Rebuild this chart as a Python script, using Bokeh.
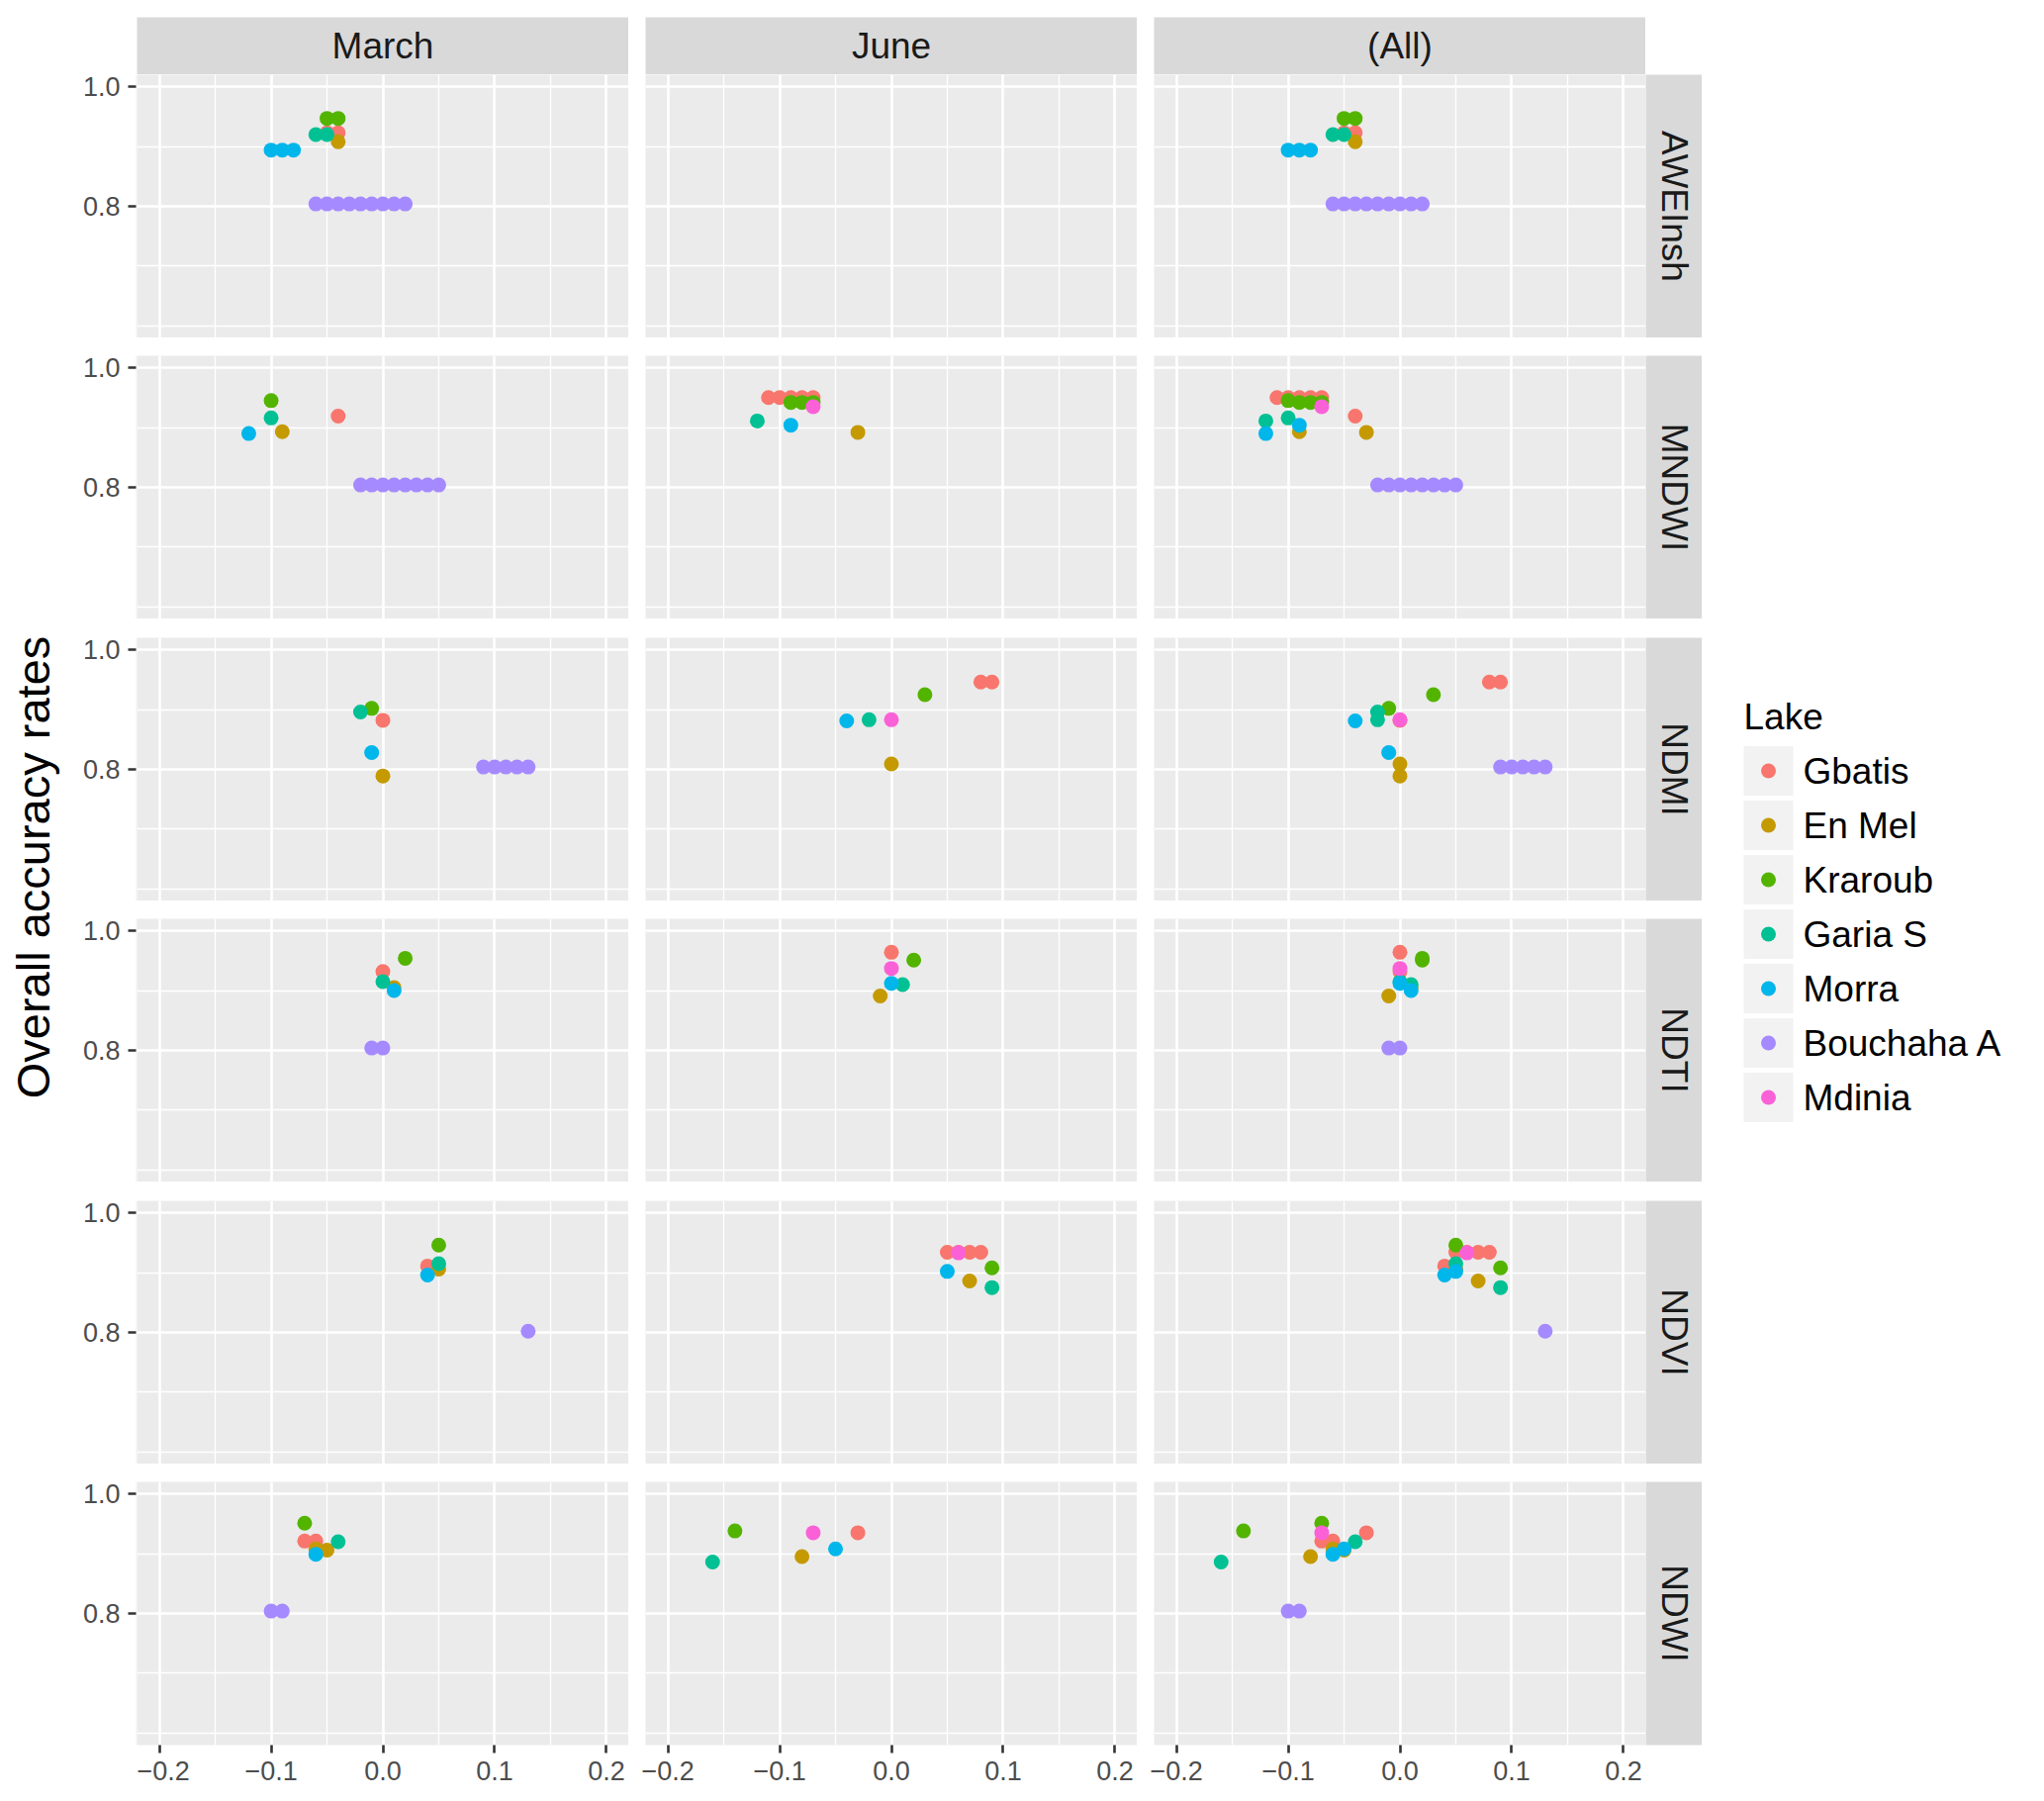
import math
from bokeh.plotting import figure
from bokeh.models import (Range1d, FactorRange, FixedTicker, ColumnDataSource, Label)
from bokeh.layouts import row, column
from bokeh.core.properties import value
from bokeh.embed import file_html
from bokeh.resources import INLINE

# ---------------- data ----------------
LAKES = ["Gbatis", "En Mel", "Kraroub", "Garia S", "Morra", "Bouchaha A", "Mdinia"]
PALETTE = ["#F8766D", "#C49A00", "#53B400", "#00C094", "#00B6EB", "#A58AFF", "#FB61D7"]
MONTHS = ["March", "June", "(All)"]
INDICES = ["AWEInsh", "MNDWI", "NDMI", "NDTI", "NDVI", "NDWI"]
X_TICKS = [-0.2, -0.1, 0.0, 0.1, 0.2]
X_TICK_LABELS = ["\u22120.2", "\u22120.1", "0.0", "0.1", "0.2"]
Y_TICKS = [0.8, 1.0]
Y_TICK_LABELS = ["0.8", "1.0"]
Y_TITLE = "Overall accuracy rates"
LEGEND_TITLE = "Lake"

AWEINSH_MARCH_LAKE = ["Gbatis", "Gbatis", "En Mel", "Kraroub", "Kraroub", "Garia S", "Garia S",
                      "Morra", "Morra", "Morra", "Bouchaha A", "Bouchaha A", "Bouchaha A",
                      "Bouchaha A", "Bouchaha A", "Bouchaha A", "Bouchaha A", "Bouchaha A", "Bouchaha A"]
AWEINSH_MARCH_X = [-0.05, -0.04, -0.04, -0.05, -0.04, -0.06, -0.05, -0.10, -0.09, -0.08,
                   -0.06, -0.05, -0.04, -0.03, -0.02, -0.01, 0.00, 0.01, 0.02]
AWEINSH_MARCH_Y = [0.923, 0.923, 0.908, 0.947, 0.947, 0.920, 0.920, 0.894, 0.894, 0.894,
                   0.804, 0.804, 0.804, 0.804, 0.804, 0.804, 0.804, 0.804, 0.804]
AWEINSH_JUNE_LAKE = []
AWEINSH_JUNE_X = []
AWEINSH_JUNE_Y = []

MNDWI_MARCH_LAKE = ["Gbatis", "En Mel", "Kraroub", "Garia S", "Morra", "Bouchaha A", "Bouchaha A",
                    "Bouchaha A", "Bouchaha A", "Bouchaha A", "Bouchaha A", "Bouchaha A", "Bouchaha A"]
MNDWI_MARCH_X = [-0.04, -0.09, -0.10, -0.10, -0.12, -0.02, -0.01, 0.00, 0.01, 0.02, 0.03, 0.04, 0.05]
MNDWI_MARCH_Y = [0.919, 0.893, 0.945, 0.916, 0.890, 0.804, 0.804, 0.804, 0.804, 0.804, 0.804, 0.804, 0.804]
MNDWI_JUNE_LAKE = ["Gbatis", "Gbatis", "Gbatis", "Gbatis", "Gbatis", "En Mel", "Kraroub", "Kraroub",
                   "Kraroub", "Garia S", "Morra", "Mdinia"]
MNDWI_JUNE_X = [-0.11, -0.10, -0.09, -0.08, -0.07, -0.03, -0.09, -0.08, -0.07, -0.12, -0.09, -0.07]
MNDWI_JUNE_Y = [0.950, 0.950, 0.950, 0.950, 0.950, 0.892, 0.942, 0.942, 0.942, 0.911, 0.904, 0.935]

NDMI_MARCH_LAKE = ["Gbatis", "En Mel", "Kraroub", "Garia S", "Morra", "Bouchaha A", "Bouchaha A",
                   "Bouchaha A", "Bouchaha A", "Bouchaha A"]
NDMI_MARCH_X = [0.00, 0.00, -0.01, -0.02, -0.01, 0.09, 0.10, 0.11, 0.12, 0.13]
NDMI_MARCH_Y = [0.882, 0.789, 0.902, 0.896, 0.828, 0.804, 0.804, 0.804, 0.804, 0.804]
NDMI_JUNE_LAKE = ["Gbatis", "Gbatis", "En Mel", "Kraroub", "Garia S", "Morra", "Mdinia"]
NDMI_JUNE_X = [0.08, 0.09, 0.00, 0.03, -0.02, -0.04, 0.00]
NDMI_JUNE_Y = [0.946, 0.946, 0.809, 0.925, 0.883, 0.881, 0.883]

NDTI_MARCH_LAKE = ["Gbatis", "En Mel", "Kraroub", "Garia S", "Morra", "Bouchaha A", "Bouchaha A"]
NDTI_MARCH_X = [0.00, 0.01, 0.02, 0.00, 0.01, -0.01, 0.00]
NDTI_MARCH_Y = [0.932, 0.905, 0.954, 0.915, 0.900, 0.804, 0.804]
NDTI_JUNE_LAKE = ["Gbatis", "En Mel", "Kraroub", "Garia S", "Morra", "Mdinia"]
NDTI_JUNE_X = [0.00, -0.01, 0.02, 0.01, 0.00, 0.00]
NDTI_JUNE_Y = [0.964, 0.891, 0.951, 0.910, 0.912, 0.937]

NDVI_MARCH_LAKE = ["Gbatis", "En Mel", "Kraroub", "Garia S", "Morra", "Bouchaha A"]
NDVI_MARCH_X = [0.04, 0.05, 0.05, 0.05, 0.04, 0.13]
NDVI_MARCH_Y = [0.911, 0.906, 0.946, 0.915, 0.896, 0.802]
NDVI_JUNE_LAKE = ["Gbatis", "Gbatis", "Gbatis", "Gbatis", "En Mel", "Kraroub", "Garia S", "Morra", "Mdinia"]
NDVI_JUNE_X = [0.05, 0.06, 0.07, 0.08, 0.07, 0.09, 0.09, 0.05, 0.06]
NDVI_JUNE_Y = [0.934, 0.934, 0.934, 0.934, 0.886, 0.908, 0.875, 0.902, 0.933]

NDWI_MARCH_LAKE = ["Gbatis", "Gbatis", "En Mel", "En Mel", "Kraroub", "Garia S", "Morra",
                   "Bouchaha A", "Bouchaha A"]
NDWI_MARCH_X = [-0.07, -0.06, -0.06, -0.05, -0.07, -0.04, -0.06, -0.10, -0.09]
NDWI_MARCH_Y = [0.921, 0.921, 0.908, 0.906, 0.951, 0.920, 0.899, 0.804, 0.804]
NDWI_JUNE_LAKE = ["Gbatis", "En Mel", "Kraroub", "Garia S", "Morra", "Mdinia"]
NDWI_JUNE_X = [-0.03, -0.08, -0.14, -0.16, -0.05, -0.07]
NDWI_JUNE_Y = [0.935, 0.895, 0.938, 0.886, 0.908, 0.935]

PANEL_DATA = {
    ("AWEInsh", "March"): (AWEINSH_MARCH_LAKE, AWEINSH_MARCH_X, AWEINSH_MARCH_Y),
    ("AWEInsh", "June"): (AWEINSH_JUNE_LAKE, AWEINSH_JUNE_X, AWEINSH_JUNE_Y),
    ("MNDWI", "March"): (MNDWI_MARCH_LAKE, MNDWI_MARCH_X, MNDWI_MARCH_Y),
    ("MNDWI", "June"): (MNDWI_JUNE_LAKE, MNDWI_JUNE_X, MNDWI_JUNE_Y),
    ("NDMI", "March"): (NDMI_MARCH_LAKE, NDMI_MARCH_X, NDMI_MARCH_Y),
    ("NDMI", "June"): (NDMI_JUNE_LAKE, NDMI_JUNE_X, NDMI_JUNE_Y),
    ("NDTI", "March"): (NDTI_MARCH_LAKE, NDTI_MARCH_X, NDTI_MARCH_Y),
    ("NDTI", "June"): (NDTI_JUNE_LAKE, NDTI_JUNE_X, NDTI_JUNE_Y),
    ("NDVI", "March"): (NDVI_MARCH_LAKE, NDVI_MARCH_X, NDVI_MARCH_Y),
    ("NDVI", "June"): (NDVI_JUNE_LAKE, NDVI_JUNE_X, NDVI_JUNE_Y),
    ("NDWI", "March"): (NDWI_MARCH_LAKE, NDWI_MARCH_X, NDWI_MARCH_Y),
    ("NDWI", "June"): (NDWI_JUNE_LAKE, NDWI_JUNE_X, NDWI_JUNE_Y),
}

# ---------------- style / layout constants ----------------
FONT = "Liberation Sans"
PANEL_BG = "#EBEBEB"
STRIP_BG = "#D9D9D9"
KEY_BG = "#F2F2F2"
FW, FH = 497, 266           # panel frame size
GAP_X = 17
ROW_GAPS = [0, 18, 19, 18, 19, 18]
AXIS_W = 70                 # y-axis column width (incl. 1px frame)
BOTTOM_AX = 50
STRIP_TOP = 17
STRIP_H = 58
RSTRIP_W = 57
TITLE_W = 68
TOTAL_H = STRIP_TOP + STRIP_H + sum(ROW_GAPS) + 6 * FH + BOTTOM_AX
X_RANGE = (-0.22, 0.22)
Y_RANGE = (0.58, 1.02)
X_MINOR = [-0.15, -0.05, 0.05, 0.15]
Y_MINOR = [0.6, 0.7, 0.9]
color_of = dict(zip(LAKES, PALETTE))


def panel_source(idx, month):
    if month == "(All)":
        lm, xm, ym = PANEL_DATA[(idx, "March")]
        lj, xj, yj = PANEL_DATA[(idx, "June")]
        lk, xs, ys = list(lm) + list(lj), list(xm) + list(xj), list(ym) + list(yj)
    else:
        lk, xs, ys = PANEL_DATA[(idx, month)]
    order = sorted(range(len(lk)), key=lambda i: LAKES.index(lk[i]))
    return ColumnDataSource(dict(
        x=[xs[i] for i in order], y=[ys[i] for i in order],
        lake=[lk[i] for i in order], color=[color_of[lk[i]] for i in order]))


def base_fig(width, height, left, top, right, bottom, xr, yr, xloc=None, yloc=None, bg="white"):
    p = figure(width=width, height=height, x_range=xr, y_range=yr,
               min_border_left=left, min_border_top=top, min_border_right=right,
               min_border_bottom=bottom, x_axis_location=xloc, y_axis_location=yloc,
               toolbar_location=None, output_backend="svg", title=None,
               background_fill_color=bg, border_fill_color="white", outline_line_color=None)
    return p


def style_axis(ax, ticks, labels):
    ax.ticker = FixedTicker(ticks=ticks)
    ax.major_label_overrides = {t: l for t, l in zip(ticks, labels)}
    ax.axis_line_color = None
    ax.major_tick_in = 0
    ax.major_tick_out = 8
    ax.major_tick_line_color = "#333333"
    ax.major_tick_line_width = 2.6
    ax.minor_tick_line_color = None
    ax.major_label_standoff = 8
    ax.major_label_text_font = FONT
    ax.major_label_text_font_size = "27px"
    ax.major_label_text_color = "#4D4D4D"


def style_grid(p, with_x=True):
    p.xgrid.ticker = FixedTicker(ticks=X_TICKS, minor_ticks=X_MINOR)
    p.ygrid.ticker = FixedTicker(ticks=Y_TICKS, minor_ticks=Y_MINOR)
    for g in (p.xgrid, p.ygrid):
        g.grid_line_color = "white"
        g.grid_line_width = 2.6
        g.minor_grid_line_color = "white"
        g.minor_grid_line_width = 1.3
    if not with_x:
        p.xgrid.visible = False


def make_panel(idx, month, r, c):
    left = 0 if c == 0 else GAP_X
    top = ROW_GAPS[r]
    bottom = BOTTOM_AX if r == len(INDICES) - 1 else 0
    p = base_fig(left + FW, top + FH + bottom, left, top, 0, bottom,
                 Range1d(*X_RANGE), Range1d(*Y_RANGE),
                 xloc="below" if bottom else None, bg=PANEL_BG)
    style_grid(p)
    if bottom:
        style_axis(p.xaxis[0], X_TICKS, X_TICK_LABELS)
    p.scatter(x="x", y="y", source=panel_source(idx, month), size=15,
              fill_color="color", line_color=None)
    return p


def make_yaxis(r):
    top = ROW_GAPS[r] if r > 0 else STRIP_TOP + STRIP_H
    bottom = BOTTOM_AX if r == len(INDICES) - 1 else 0
    p = base_fig(AXIS_W, top + FH + bottom, AXIS_W - 1, top, 0, bottom,
                 Range1d(0, 1), Range1d(*Y_RANGE), yloc="left", bg=PANEL_BG)
    style_grid(p, with_x=False)
    style_axis(p.yaxis[0], Y_TICKS, Y_TICK_LABELS)
    return p


def make_strip(text, width, height, left, top, bottom, vertical):
    p = base_fig(left + width, top + height + bottom, left, top, 0, bottom,
                 Range1d(0, 1), Range1d(0, 1), bg=STRIP_BG)
    p.grid.visible = False
    p.add_layout(Label(x=0.5, y=0.5, text=text, angle=(-math.pi / 2 if vertical else 0),
                       text_align="center", text_baseline="middle", text_font=FONT,
                       text_font_size="37px", text_color="#1A1A1A"))
    return p


# top strips
strip_row = row(*[make_strip(m, FW, STRIP_H, 0 if i == 0 else GAP_X, STRIP_TOP, 0, False)
                  for i, m in enumerate(MONTHS)])
rows = [strip_row]
for r, idx in enumerate(INDICES):
    figs = [make_panel(idx, m, r, c) for c, m in enumerate(MONTHS)]
    bottom = BOTTOM_AX if r == len(INDICES) - 1 else 0
    figs.append(make_strip(idx, RSTRIP_W, FH, 0, ROW_GAPS[r], bottom, True))
    rows.append(row(*figs))
panels_col = column(*rows)
axis_col = column(*[make_yaxis(r) for r in range(len(INDICES))])

# y-axis title (rotated text)
ytitle = base_fig(TITLE_W, TOTAL_H, 0, 0, 0, 0, Range1d(0, TITLE_W), Range1d(TOTAL_H, 0))
ytitle.grid.visible = False
ytitle.add_layout(Label(x=33, y=876, text=Y_TITLE, angle=math.pi / 2, text_align="center",
                        text_baseline="middle", text_font=FONT, text_font_size="47px",
                        text_color="#000000"))

# legend (drawn on a categorical axis of lakes)
LEG_W = 330
LEG_TOP = 696
LEG_H = 55 * (len(LAKES) + 1)
leg = base_fig(LEG_W, TOTAL_H, 0, LEG_TOP, 0, TOTAL_H - LEG_TOP - LEG_H,
               Range1d(0, LEG_W), FactorRange(factors=list(reversed([LEGEND_TITLE] + LAKES))))
leg.grid.visible = False
leg_src = ColumnDataSource(dict(lake=LAKES, color=PALETTE))
leg.rect(x=67, y="lake", width=50, height=50, width_units="screen", height_units="screen",
         source=leg_src, fill_color=KEY_BG, line_color=None)
leg.scatter(x=67, y="lake", source=leg_src, size=15, fill_color="color", line_color=None)
leg.text(x=102, y="lake", text="lake", source=leg_src, text_align="left", text_baseline="middle",
         text_font=value(FONT), text_font_size=value("37px"), text_color="#000000")
leg.text(x=[42], y=[LEGEND_TITLE], text=[LEGEND_TITLE], text_align="left", text_baseline="middle",
         text_font=value(FONT), text_font_size=value("37px"), text_color="#000000")

# wrap the side figures so that the row does not align their frames
layout = row(column(ytitle), axis_col, panels_col, column(leg))
open("out.html", "w").write(file_html(layout, INLINE))
